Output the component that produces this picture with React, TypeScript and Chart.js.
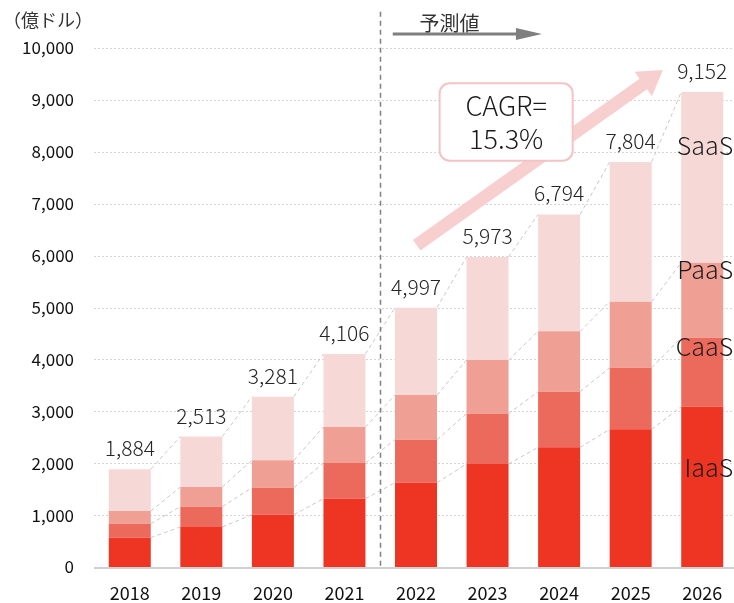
import React, { useEffect, useRef } from 'react';
import { Chart, registerables } from 'chart.js';

Chart.register(...registerables);

const YEARS = ['2018', '2019', '2020', '2021', '2022', '2023', '2024', '2025', '2026'];
const IAAS = [565, 771, 1008, 1316, 1624, 1985, 2306, 2653, 3089];
const CAAS = [269, 391, 520, 688, 829, 969, 1072, 1187, 1329];
const PAAS = [245, 379, 528, 693, 861, 1034, 1163, 1272, 1445];
const SAAS = [805, 972, 1225, 1409, 1683, 1985, 2253, 2692, 3289];
const TOTALS = [1884, 2513, 3281, 4106, 4997, 5973, 6794, 7804, 9152];
const SERIES_NAMES = ['IaaS', 'CaaS', 'PaaS', 'SaaS'];
const COLORS = ['#EE3524', '#EC6A5C', '#EF9F94', '#F6D9D7'];
const Y_MAX = 10000;
const Y_STEP = 1000;
const UNIT = '（億ドル）';
const CAGR_LINES = ['CAGR=', '15.3%'];
const FORECAST = '予測値';

const FONT = '"Noto Sans CJK JP", "Noto Sans", sans-serif';

// annotation anchors in (category index, value) space
const SEG_LABEL_Y = [1908, 4239, 5723, 8112];
const ARROW_FROM = [4.01, 6200];
const ARROW_TO = [7.45, 9576];
const BOX = { x0: 4.33, x1: 6.19, yTop: 9320, yBot: 7828 };
const FORECAST_ARROW = { x0: 3.675, x1: 5.76, y: 10270, textX: 4.05, textY: 10470 };
const VLINE_TOP = 10700;

export default function App() {
  const ref = useRef<HTMLCanvasElement>(null);

  useEffect(() => {
    const canvas = ref.current!;
    const annot = {
      id: 'annot',
      beforeDatasetsDraw(chart: any) {
        const { ctx, chartArea, scales } = chart;
        const { left, right, bottom } = chartArea;
        const y = scales.y;
        const x = scales.x;
        ctx.save();
        // gridlines
        ctx.strokeStyle = '#d6d6d6';
        ctx.lineWidth = 1;
        ctx.setLineDash([2, 2]);
        y.ticks.forEach((t: any) => {
          if (t.value === 0) return;
          const py = Math.round(y.getPixelForValue(t.value)) + 0.5;
          ctx.beginPath();
          ctx.moveTo(left, py);
          ctx.lineTo(right, py);
          ctx.stroke();
        });
        // baseline
        ctx.setLineDash([]);
        ctx.strokeStyle = '#d0d0d0';
        ctx.lineWidth = 2;
        ctx.beginPath();
        ctx.moveTo(left, bottom + 1);
        ctx.lineTo(right, bottom + 1);
        ctx.stroke();
        // connectors
        ctx.strokeStyle = '#c8c8c8';
        ctx.lineWidth = 1;
        ctx.setLineDash([4, 3]);
        for (let d = 0; d < 4; d++) {
          const meta = chart.getDatasetMeta(d);
          for (let i = 0; i < meta.data.length - 1; i++) {
            const a = meta.data[i];
            const b = meta.data[i + 1];
            ctx.beginPath();
            ctx.moveTo(a.x + a.width / 2, a.y);
            ctx.lineTo(b.x - b.width / 2, b.y);
            ctx.stroke();
          }
        }
        // vertical forecast divider
        const xm = Math.round((x.getPixelForValue(3) + x.getPixelForValue(4)) / 2) + 0.5;
        ctx.strokeStyle = '#808080';
        ctx.lineWidth = 1.5;
        ctx.setLineDash([5, 4]);
        ctx.beginPath();
        ctx.moveTo(xm, y.getPixelForValue(VLINE_TOP));
        ctx.lineTo(xm, bottom);
        ctx.stroke();
        ctx.restore();
      },
      afterDatasetsDraw(chart: any) {
        const { ctx, scales } = chart;
        const x = scales.x;
        const y = scales.y;
        const px = (v: number) => x.getPixelForValue(0) + v * (x.getPixelForValue(1) - x.getPixelForValue(0));
        ctx.save();
        // totals
        const top = chart.getDatasetMeta(3);
        ctx.fillStyle = '#262626';
        ctx.font = `300 21px ${FONT}`;
        ctx.textAlign = 'center';
        ctx.textBaseline = 'middle';
        top.data.forEach((bar: any, i: number) => {
          ctx.fillText(TOTALS[i].toLocaleString('en-US'), bar.x, bar.y - 21);
        });
        // series labels
        const last = chart.getDatasetMeta(0).data[YEARS.length - 1];
        ctx.font = `300 25px ${FONT}`;
        ctx.textAlign = 'right';
        ctx.fillStyle = '#1a1a1a';
        SERIES_NAMES.forEach((n, i) => {
          ctx.fillText(n, last.x + last.width / 2 + 10, y.getPixelForValue(SEG_LABEL_Y[i]));
        });
        // big CAGR arrow
        const sx = px(ARROW_FROM[0]);
        const sy = y.getPixelForValue(ARROW_FROM[1]);
        const tx = px(ARROW_TO[0]);
        const ty = y.getPixelForValue(ARROW_TO[1]);
        const len = Math.hypot(tx - sx, ty - sy);
        const ux = (tx - sx) / len;
        const uy = (ty - sy) / len;
        const nx = -uy;
        const ny = ux;
        const headLen = 24;
        const headHalf = 15;
        const shaftHalf = 6.5;
        const bx = tx - ux * headLen;
        const by = ty - uy * headLen;
        ctx.fillStyle = '#F8CFCF';
        ctx.beginPath();
        ctx.moveTo(sx + nx * shaftHalf, sy + ny * shaftHalf);
        ctx.lineTo(bx + nx * shaftHalf, by + ny * shaftHalf);
        ctx.lineTo(bx + nx * headHalf, by + ny * headHalf);
        ctx.lineTo(tx, ty);
        ctx.lineTo(bx - nx * headHalf, by - ny * headHalf);
        ctx.lineTo(bx - nx * shaftHalf, by - ny * shaftHalf);
        ctx.lineTo(sx - nx * shaftHalf, sy - ny * shaftHalf);
        ctx.closePath();
        ctx.fill();
        // CAGR box
        const x0 = px(BOX.x0);
        const x1 = px(BOX.x1);
        const y0 = y.getPixelForValue(BOX.yTop);
        const y1 = y.getPixelForValue(BOX.yBot);
        ctx.beginPath();
        ctx.roundRect(x0, y0, x1 - x0, y1 - y0, 10);
        ctx.fillStyle = '#ffffff';
        ctx.fill();
        ctx.strokeStyle = '#F4C4C4';
        ctx.lineWidth = 2;
        ctx.stroke();
        ctx.fillStyle = '#1a1a1a';
        ctx.font = `300 27px ${FONT}`;
        ctx.textAlign = 'center';
        ctx.textBaseline = 'middle';
        const cx = (x0 + x1) / 2;
        const h = y1 - y0;
        ctx.fillText(CAGR_LINES[0], cx, y0 + h * 0.29);
        ctx.fillText(CAGR_LINES[1], cx, y0 + h * 0.71);
        // forecast arrow
        const fx0 = px(FORECAST_ARROW.x0);
        const fx1 = px(FORECAST_ARROW.x1);
        const fy = y.getPixelForValue(FORECAST_ARROW.y);
        ctx.strokeStyle = '#7f7f7f';
        ctx.fillStyle = '#7f7f7f';
        ctx.lineWidth = 3;
        ctx.beginPath();
        ctx.moveTo(fx0, fy);
        ctx.lineTo(fx1 - 22, fy);
        ctx.stroke();
        ctx.beginPath();
        ctx.moveTo(fx1, fy);
        ctx.lineTo(fx1 - 26, fy - 6);
        ctx.lineTo(fx1 - 26, fy + 6);
        ctx.closePath();
        ctx.fill();
        ctx.fillStyle = '#333333';
        ctx.font = `20px ${FONT}`;
        ctx.textAlign = 'left';
        ctx.fillText(FORECAST, px(FORECAST_ARROW.textX), y.getPixelForValue(FORECAST_ARROW.textY));
        // unit
        ctx.font = `18px ${FONT}`;
        ctx.fillText(UNIT, 3, 20);
        ctx.restore();
      },
    };

    const chart = new Chart(canvas, {
      type: 'bar',
      data: {
        labels: YEARS,
        datasets: [IAAS, CAAS, PAAS, SAAS].map((d, i) => ({
          label: SERIES_NAMES[i],
          data: d,
          backgroundColor: COLORS[i],
          borderWidth: 0,
          categoryPercentage: 1,
          barPercentage: 0.587,
        })),
      },
      options: {
        responsive: false,
        animation: false,
        locale: 'en-US',
        layout: { padding: { top: 48, right: 8, left: 0, bottom: 0 } },
        plugins: { legend: { display: false }, tooltip: { enabled: false } },
        scales: {
          x: {
            stacked: true,
            grid: { display: false, drawTicks: false },
            border: { display: false },
            ticks: { font: { family: FONT, size: 18 }, color: '#111111', padding: 15 },
            afterFit(s: any) { s.height = 36; },
          },
          y: {
            stacked: true,
            min: 0,
            max: Y_MAX,
            grid: { display: false, drawTicks: false },
            border: { display: false },
            ticks: { stepSize: Y_STEP, font: { family: FONT, size: 17 }, color: '#111111', padding: 20 },
            afterFit(s: any) { s.width = 94; },
          },
        },
      },
      plugins: [annot],
    } as any);
    return () => chart.destroy();
  }, []);

  return (
    <div style={{ position: 'absolute', left: 0, top: 0, width: 734, height: 603, overflow: 'hidden', background: '#fff' }}>
      <canvas ref={ref} width={746} height={603} style={{ display: 'block', width: 746, height: 603 }} />
    </div>
  );
}
